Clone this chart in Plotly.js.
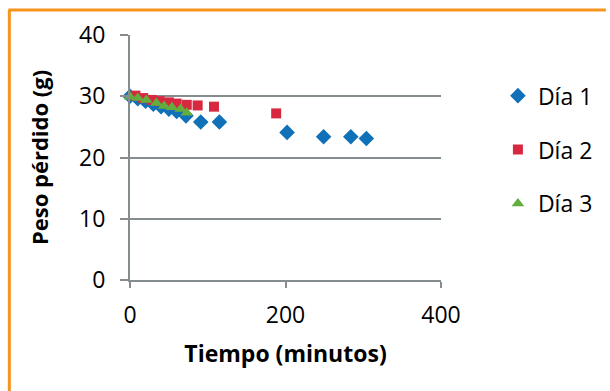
<!DOCTYPE html>
<html>
<head>
<meta charset="utf-8">
<script src="https://cdn.plot.ly/plotly-3.0.1.min.js"></script>
<style>html,body{margin:0;padding:0;background:#fff;} #chart{width:610px;height:391px;}</style>
</head>
<body>
<div id="chart"></div>
<script>
const dia1Tiempo = [0, 10, 20, 30, 40, 50, 60, 72, 91, 115, 202, 249, 284, 304];
const dia1Peso   = [30.0, 29.6, 29.2, 28.7, 28.3, 27.9, 27.5, 26.8, 25.8, 25.8, 24.1, 23.4, 23.4, 23.1];
const dia2Tiempo = [-3, 7, 17, 28, 38, 50, 60, 73, 87, 108, 188];
const dia2Peso   = [30.3, 30.1, 29.7, 29.4, 29.2, 29.0, 28.8, 28.6, 28.5, 28.3, 27.2];
const dia3Tiempo = [0, 10, 21, 34, 44, 54, 65, 73];
const dia3Peso   = [29.9, 29.7, 29.4, 28.9, 28.4, 28.2, 27.9, 27.3];
const seriesNames = ['Día 1', 'Día 2', 'Día 3'];
const xTicks = [0, 200, 400];
const yTicks = [0, 10, 20, 30, 40];

const font = '"Open Sans", "DejaVu Sans", sans-serif';
const traces = [
  {x: dia1Tiempo, y: dia1Peso, name: seriesNames[0], legendgroup: 'a', mode: 'markers', type: 'scatter', cliponaxis: false,
   marker: {symbol: 'diamond', size: 12, color: '#1071b8'}},
  {x: dia2Tiempo, y: dia2Peso, name: seriesNames[1], legendgroup: 'b', mode: 'markers', type: 'scatter', cliponaxis: false,
   marker: {symbol: 'square', size: 10, color: '#d8283f'}},
  {x: dia3Tiempo, y: dia3Peso, name: seriesNames[2], legendgroup: 'c', mode: 'markers', type: 'scatter', cliponaxis: false,
   marker: {symbol: 'triangle-up', size: 11, color: '#62ad3e'}}
];
const layout = {
  width: 610, height: 391,
  margin: {l: 130, r: 163, t: 35, b: 111},
  paper_bgcolor: '#fff', plot_bgcolor: '#fff',
  font: {family: font, color: '#000', size: 24},
  showlegend: true,
  legend: {x: 1.183, xanchor: 'left', y: 0.84, yanchor: 'top', font: {size: 23, family: font},
           tracegroupgap: 21, traceorder: 'grouped', bgcolor: 'rgba(0,0,0,0)', itemwidth: 30},
  xaxis: {range: [0, 400], tickvals: xTicks, ticks: 'outside', ticklen: 6, tickcolor: '#868d90', tickwidth: 2,
          showline: true, linecolor: '#868d90', linewidth: 2, showgrid: false, zeroline: false,
          ticklabelstandoff: 7, tickfont: {size: 23},
          title: {text: '<b>Tiempo (minutos)</b>', font: {size: 23, family: font}, standoff: 17}},
  yaxis: {range: [0, 40], tickvals: yTicks, ticks: 'outside', ticklen: 8, tickcolor: '#868d90', tickwidth: 2,
          showline: true, linecolor: '#868d90', linewidth: 2, showgrid: true, gridcolor: '#868d90', gridwidth: 2,
          zeroline: false, ticklabelstandoff: 10, tickfont: {size: 23},
          title: {text: '<b>Peso pérdido (g)</b>', font: {size: 22, family: font}, standoff: 24}},
  shapes: [
    {type: 'line', xref: 'paper', yref: 'paper', x0: (7-130)/317, x1: (7-130)/317, y0: (280-10)/245, y1: (280-395)/245,
     line: {color: '#f7941d', width: 3}},
    {type: 'line', xref: 'paper', yref: 'paper', x0: (6-130)/317, x1: (615-130)/317, y0: (280-10)/245, y1: (280-10)/245,
     line: {color: '#f7941d', width: 3}}
  ]
};
Plotly.newPlot('chart', traces, layout, {displayModeBar: false, staticPlot: true});
</script>
</body>
</html>
